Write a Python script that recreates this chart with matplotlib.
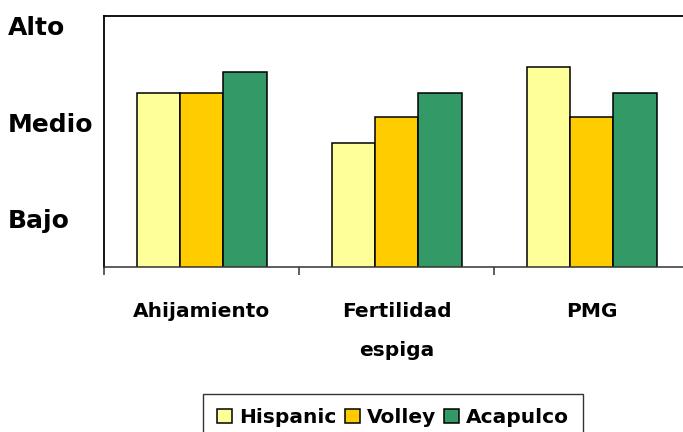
import numpy as np
import matplotlib
matplotlib.use("Agg")
import matplotlib.pyplot as plt

# datos (escala: 1=Bajo, 2=Medio, 3=Alto)
categorias = ["Ahijamiento", "Fertilidad\nespiga", "PMG"]
hispanic = [2.30, 1.78, 2.57]
volley = [2.30, 2.05, 2.05]
acapulco = [2.52, 2.30, 2.30]
niveles = [1, 2, 3]
etiquetas_niveles = ["Bajo", "Medio", "Alto"]

series = [("Hispanic", hispanic, "#FFFF99"),
          ("Volley", volley, "#FFCC00"),
          ("Acapulco", acapulco, "#339966")]

plt.rcParams['font.family'] = ['DejaVu Sans']

fig = plt.figure(figsize=(6.83, 4.32), dpi=100)
W, H = 683, 432
ax = fig.add_axes([104 / W, 1 - 267 / H, 585 / W, 251 / H])

x = np.arange(len(categorias))
bw = 2 / 9
for i, (nombre, vals, col) in enumerate(series):
    ax.bar(x + (i - 1) * bw, vals, width=bw, color=col, edgecolor='black',
           linewidth=1.1, label=nombre)

ax.set_xlim(-0.5, 2.5)
ax.set_ylim(0.5, 3.1)

ax.spines['right'].set_visible(False)
for s in ['left', 'top']:
    ax.spines[s].set_linewidth(1.3)
ax.spines['bottom'].set_color('#333333')
ax.spines['bottom'].set_linewidth(1.1)

ax.set_yticks(niveles)
ax.set_yticklabels(etiquetas_niveles, fontsize=18, fontweight='bold', ha='left')
ax.tick_params(axis='y', length=0, pad=96 * 0.72)

ax.set_xticks(x)
ax.set_xticklabels(categorias, fontsize=14.5, fontweight='bold', linespacing=2.35,
                   va='top')
ax.set_xticks(np.arange(-0.5, 3.0, 1.0), minor=True)
ax.tick_params(axis='x', which='major', length=0, pad=25)
ax.tick_params(axis='x', which='minor', length=6, width=1.1, color='#333333')

leg = fig.legend(loc='upper left', bbox_to_anchor=(203 / W, 1 - 394 / H), ncol=3,
                 frameon=True, fancybox=False, edgecolor='black',
                 prop={'weight': 'bold', 'size': 14.5}, handlelength=0.75,
                 handleheight=0.75, handletextpad=0.35, columnspacing=0.4,
                 borderpad=0.7, borderaxespad=0)
leg.get_frame().set_linewidth(1.0)

fig.savefig("out.png", dpi=100)
